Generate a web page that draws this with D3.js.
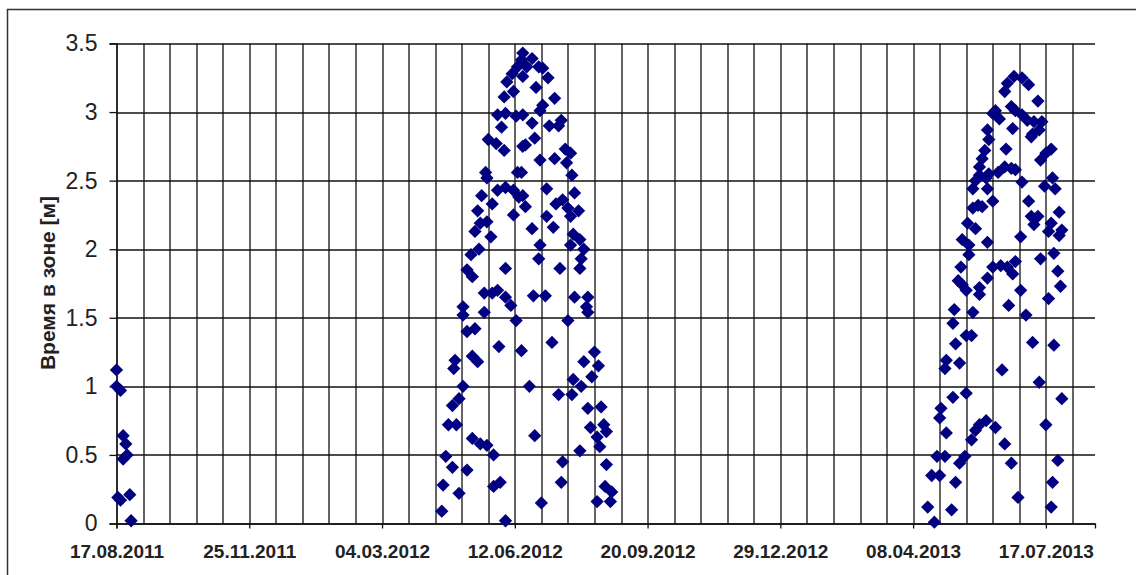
<!DOCTYPE html>
<html>
<head>
<meta charset="utf-8">
<script src="https://cdn.jsdelivr.net/npm/d3@7"></script>
<style>
  html, body { margin: 0; padding: 0; background: #fff; }
  svg { display: block; }
</style>
</head>
<body>
<svg id="chart" width="1136" height="575"></svg>
<script>
// ---- data (x = days after START_DATE, y = time in zone, m) ----
const START_DATE = "2011-08-17";
const X_MAX_DAYS = 737;
const majorTickDays = [0, 100, 200, 300, 400, 500, 600, 700];
const gridStepDays = 20;
const yTicks = [0, 0.5, 1, 1.5, 2, 2.5, 3, 3.5];
const yAxisTitle = "Время в зоне [м]";

const season2011 = [[0,1.12],[0,1.0],[3,0.97],[5,0.64],[7,0.58],[5,0.47],[8,0.5],[1,0.19],[3,0.17],[10,0.21],[11,0.02]];

const season2012 = [[245,0.09],[246,0.28],[258,0.22],[248,0.49],[253,0.41],[264,0.39],[268,0.62],[274,0.58],[279,0.57],[284,0.50],[284,0.27],[289,0.30],[293,0.02],[250,0.72],[256,0.72],[261,1.0],[258,0.91],[253,0.86],[255,1.19],[254,1.13],[268,1.22],[272,1.18],[288,1.29],[305,1.26],[264,1.40],[270,1.42],[261,1.52],[261,1.58],[277,1.54],[301,1.48],[277,1.68],[283,1.68],[287,1.70],[293,1.65],[297,1.59],[293,1.86],[264,1.85],[268,1.80],[267,1.96],[273,2.0],[270,2.13],[274,2.19],[279,2.20],[282,2.09],[272,2.28],[275,2.39],[283,2.33],[287,2.43],[293,2.45],[299,2.43],[303,2.38],[299,2.25],[278,2.56],[279,2.52],[302,2.56],[280,2.80],[286,2.77],[292,2.72],[306,2.75],[287,2.98],[293,2.99],[290,2.89],[301,2.97],[292,3.11],[299,3.15],[294,3.22],[298,3.28],[302,3.33],[305,3.38],
[306,3.43],[313,3.39],[309,3.33],[318,3.33],[321,3.32],[306,3.26],[325,3.25],[316,3.18],[330,3.10],[321,3.05],[319,3.01],[306,2.98],[313,2.92],[326,2.90],[335,2.94],[333,2.90],[315,2.81],[308,2.76],[338,2.73],[342,2.70],[319,2.65],[330,2.66],[339,2.63],[343,2.54],[305,2.56],[324,2.44],[306,2.39],[336,2.36],[345,2.41],[331,2.33],[308,2.31],[340,2.30],[348,2.28],[324,2.24],[342,2.24],[313,2.15],[329,2.16],[344,2.11],[349,2.07],[342,2.03],[352,2.0],[319,2.03],[318,1.93],[350,1.93],[349,1.86],[334,1.86],[314,1.66],[323,1.66],[345,1.65],[355,1.65],[354,1.58],[355,1.54],[340,1.48],[328,1.32],[360,1.25],[352,1.18],[363,1.15],[358,1.07],[344,1.05],[350,1.0],[311,1.0],[333,0.94],[343,0.94],[355,0.84],[365,0.85],[357,0.70],[367,0.72],[369,0.67],[362,0.63],[315,0.64],[349,0.53],[364,0.56],[336,0.45],[369,0.43],[335,0.30],[368,0.27],[373,0.23],[362,0.16],[320,0.15],[372,0.16]];

const season2013 = [[676,3.26],[682,3.25],[671,3.21],[687,3.20],[669,3.15],[694,3.08],[674,3.04],[662,3.01],[660,2.99],[677,3.01],[665,2.95],[682,2.98],[686,2.94],[691,2.93],[697,2.93],[656,2.87],[675,2.88],[690,2.84],[695,2.87],[689,2.82],[657,2.80],[704,2.73],[670,2.73],[654,2.72],[700,2.70],[652,2.66],[696,2.65],[650,2.60],[669,2.60],[674,2.59],[677,2.58],[664,2.56],[657,2.55],[650,2.54],[655,2.52],[647,2.50],[682,2.49],[705,2.52],[699,2.46],[707,2.44],[645,2.44],[656,2.44],[660,2.35],[687,2.35],[649,2.32],[645,2.30],[652,2.31],[710,2.27],[689,2.24],[694,2.24],[691,2.18],[704,2.19],[641,2.19],[647,2.15],[712,2.14],[702,2.13],[710,2.10],[681,2.09],[637,2.07],[656,2.05],[642,2.03],[642,1.96],[696,1.93],[706,1.97],[636,1.87],[660,1.87],[666,1.88],[671,1.87],[677,1.91],[675,1.82],[656,1.79],[634,1.77],[637,1.74],[650,1.72],[709,1.84],[711,1.73],[640,1.70],[681,1.70],[650,1.67],[702,1.64],[672,1.59],[631,1.56],[645,1.54],[685,1.52],[630,1.46],[644,1.37],[640,1.37],[632,1.31],[690,1.32],[706,1.30],[625,1.19],[635,1.17],[624,1.13],[667,1.12],[695,1.03],[630,0.92],[640,0.95],[712,0.91],[621,0.84],[620,0.77],[625,0.66],[650,0.72],[655,0.75],[662,0.70],[647,0.68],[700,0.72],[644,0.61],[669,0.58],[618,0.49],[624,0.49],[639,0.49],[635,0.44],[709,0.46],[674,0.44],[614,0.35],[620,0.35],[632,0.30],[705,0.30],[679,0.19],[611,0.12],[629,0.10],[704,0.12],[616,0.01]];

// ---- layout ----
const svg = d3.select("#chart");
const W = 1136, H = 575;
const plot = { left: 116.5, top: 43.5, right: 1095, bottom: 523.5 };
const pw = plot.right - plot.left, ph = plot.bottom - plot.top;

const start = d3.utcParse("%Y-%m-%d")(START_DATE);
const dayToDate = d => d3.utcDay.offset(start, d);

const x = d3.scaleUtc().domain([start, dayToDate(X_MAX_DAYS)]).range([0, pw]);
const y = d3.scaleLinear().domain([0, 3.5]).range([ph, 0]);

// outer chart border (only top and left visible in frame)
svg.append("rect")
  .attr("x", 7.5).attr("y", 9.5)
  .attr("width", W + 20).attr("height", H + 20)
  .attr("fill", "#fff").attr("stroke", "#333").attr("stroke-width", 1.5);

const g = svg.append("g").attr("transform", `translate(${plot.left},${plot.top})`);

const lineColor = "#111";
const lineWidth = 1.3;

// vertical gridlines every 20 days
const gridDays = d3.range(0, X_MAX_DAYS + 1, gridStepDays);
g.append("g").selectAll("line").data(gridDays).join("line")
  .attr("x1", d => Math.round(x(dayToDate(d))) + 0.5)
  .attr("x2", d => Math.round(x(dayToDate(d))) + 0.5)
  .attr("y1", 0).attr("y2", ph)
  .attr("stroke", lineColor).attr("stroke-width", lineWidth);

// horizontal gridlines
g.append("g").selectAll("line").data(yTicks).join("line")
  .attr("x1", 0).attr("x2", pw)
  .attr("y1", d => Math.round(y(d)) + 0.5)
  .attr("y2", d => Math.round(y(d)) + 0.5)
  .attr("stroke", lineColor).attr("stroke-width", lineWidth);

// y axis
const yAxis = d3.axisLeft(y).tickValues(yTicks).tickSize(7).tickPadding(12)
  .tickFormat(d => String(d));
const yg = g.append("g").call(yAxis);
yg.select(".domain").attr("stroke", lineColor).attr("stroke-width", lineWidth);
yg.selectAll(".tick line").attr("stroke", lineColor).attr("stroke-width", lineWidth);
yg.selectAll(".tick text")
  .attr("font-family", "Liberation Sans, Arial, sans-serif")
  .attr("font-size", 23).attr("fill", "#222");

// x axis
const xAxis = d3.axisBottom(x).tickValues(majorTickDays.map(dayToDate))
  .tickSize(5).tickPadding(16).tickFormat(d3.utcFormat("%d.%m.%Y"));
const xg = g.append("g").attr("transform", `translate(0,${ph})`).call(xAxis);
xg.select(".domain").attr("stroke", lineColor).attr("stroke-width", lineWidth);
xg.selectAll(".tick line").attr("stroke", lineColor).attr("stroke-width", lineWidth);
xg.selectAll(".tick text")
  .attr("font-family", "Liberation Sans, Arial, sans-serif")
  .attr("font-size", 19).attr("font-weight", "bold").attr("fill", "#222");

// y axis title
svg.append("text")
  .attr("transform", `translate(55,283) rotate(-90)`)
  .attr("text-anchor", "middle")
  .attr("font-family", "Liberation Sans, Arial, sans-serif")
  .attr("font-size", 21).attr("font-weight", "bold").attr("fill", "#222")
  .text(yAxisTitle);

// points
const allPoints = [...season2011, ...season2012, ...season2013];
const diamond = d3.symbol(d3.symbolSquare, 88);
g.append("g").selectAll("path").data(allPoints).join("path")
  .attr("d", diamond)
  .attr("transform", d => `translate(${x(dayToDate(d[0]))},${y(d[1])}) rotate(45)`)
  .attr("fill", "#000080");
</script>
</body>
</html>
